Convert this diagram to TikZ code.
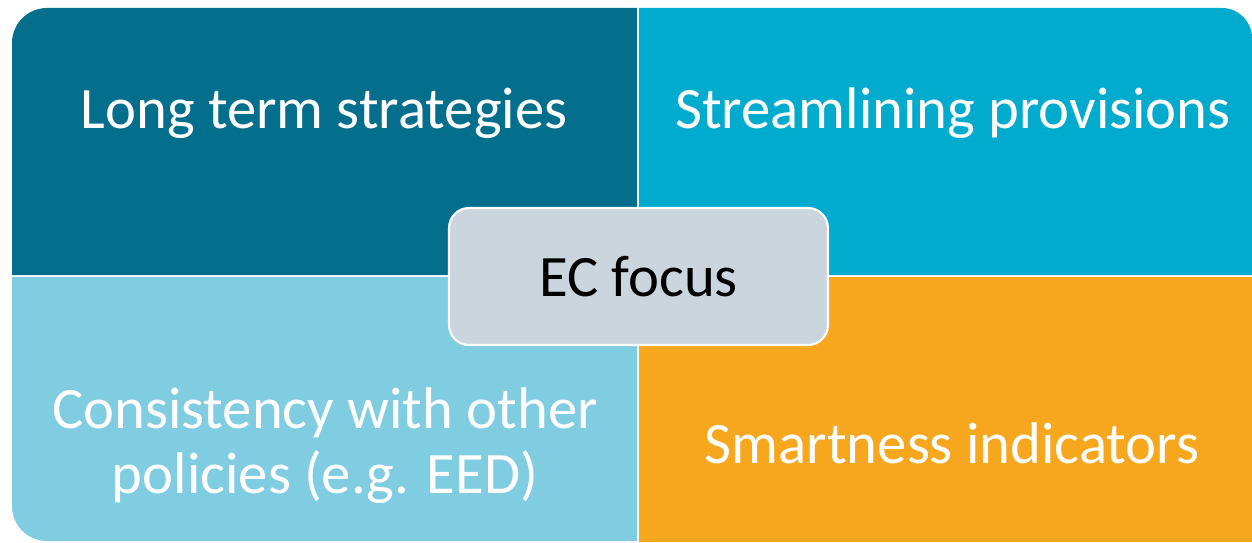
\documentclass[tikz,border=0pt]{standalone}
\usepackage{fontspec}
\setmainfont{Carlito}
\definecolor{tealdark}{HTML}{046F8D}
\definecolor{cyanmid}{HTML}{00ABCD}
\definecolor{bluelight}{HTML}{80CCE1}
\definecolor{orangeq}{HTML}{F7A71E}
\definecolor{focusgray}{HTML}{CBD5DD}
\begin{document}
\begin{tikzpicture}[x=0.02cm,y=0.02cm,
	quadtext/.style={text=white,font=\fontsize{33.4}{37}\selectfont,align=center,inner sep=0pt},
	focusbox/.style={draw=white,line width=1.2pt,fill=focusgray,rounded corners=0.4cm,
		minimum width=7.58cm,minimum height=2.74cm,font=\fontsize{33.4}{37}\selectfont}]
		\useasboundingbox (0,0) rectangle (1252,542);
		% quadrants
		\fill[tealdark] (12,267) -- (12,499) arc[start angle=180,end angle=90,radius=35] -- (637,534) -- (637,267) -- cycle;
		\fill[cyanmid] (639,267) -- (639,534) -- (1222,534) arc[start angle=90,end angle=0,radius=30] -- (1252,267) -- cycle;
		\fill[bluelight] (12,265) -- (637,265) -- (637,1) -- (47,1) arc[start angle=270,end angle=180,radius=35] -- cycle;
		\fill[orangeq] (639,265) -- (1252,265) -- (1252,0) -- (639,0) -- cycle;
		% labels
		\node [quadtext,anchor=base] (longterm) at (324,414) {Long term strategies};
		\node [quadtext,anchor=base] (streamline) at (953,414) {Streamlining provisions};
		\node [quadtext] (consistency) at (325,96) {Consistency with other\\policies (e.g. EED)};
		\node [quadtext,anchor=base] (smartness) at (952,79) {Smartness indicators};
		\node [focusbox] (focus) at (638.5,265.5) {EC focus};
\end{tikzpicture}
\end{document}
